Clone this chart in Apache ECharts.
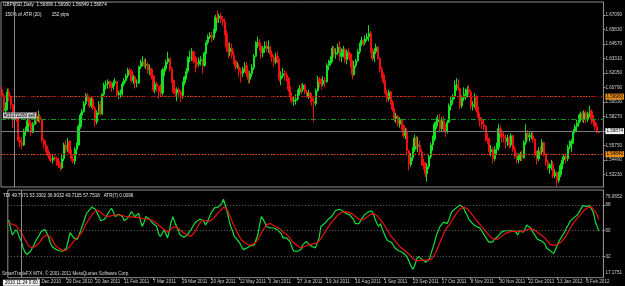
<!DOCTYPE html>
<html><head><meta charset="utf-8">
<script src="https://cdn.jsdelivr.net/npm/echarts@6/dist/echarts.min.js"></script>
<style>html,body{margin:0;padding:0;background:#000;}#c{width:625px;height:286px;}</style>
</head><body><div id="c"></div>
<script>
// ---- data (GBPUSD Daily) ----
const firstDay = '2010-11-15';
const opens = [
1.6060,1.6010,1.5880,1.5890,1.6040, 1.6000,1.5930,1.5800,1.5840,1.5810, 1.5620,1.5600,1.5580,1.5700,1.5700, 1.5790,1.5770,1.5690,1.5760,1.5820,
1.5790,1.5830,1.5800,1.5620,1.5580, 1.5540,1.5500,1.5460,1.5450,1.5470, 1.5460,1.5440,1.5400,1.5380,1.5460, 1.5580,1.5540,1.5610,1.5510,1.5460,
1.5440,1.5540,1.5580,1.5740,1.5840, 1.5870,1.5940,1.6010,1.5990,1.5920, 1.5980,1.5900,1.5780,1.5860,1.5930, 1.5850,1.6020,1.6100,1.6110,1.6130,
1.6100,1.6080,1.6120,1.6130,1.6020, 1.6020,1.6030,1.6110,1.6140,1.6180, 1.6230,1.6220,1.6140,1.6170,1.6120, 1.6120,1.6260,1.6290,1.6300,1.6270,
1.6280,1.6230,1.6240,1.6180,1.6060, 1.6110,1.6090,1.6040,1.6030,1.6230, 1.6240,1.6300,1.6330,1.6240,1.6140, 1.6040,1.6030,1.6060,1.6040,1.6010,
1.6120,1.6170,1.6220,1.6340,1.6340, 1.6390,1.6310,1.6300,1.6280,1.6310, 1.6320,1.6270,1.6380,1.6470,1.6520, 1.6530,1.6510,1.6570,1.6690,1.6680,
1.6700,1.6670,1.6650,1.6550,1.6430, 1.6390,1.6420,1.6360,1.6310,1.6260, 1.6260,1.6220,1.6200,1.6240,1.6270, 1.6200,1.6150,1.6200,1.6250,1.6350,
1.6460,1.6470,1.6440,1.6380,1.6420, 1.6440,1.6420,1.6430,1.6370,1.6340, 1.6300,1.6350,1.6320,1.6150,1.6180, 1.6200,1.6190,1.6160,1.6060,1.6000,
1.5960,1.5970,1.5980,1.6040,1.6070, 1.6060,1.6100,1.6040,1.6000,1.6030, 1.5990,1.5960,1.5940,1.6050,1.6150, 1.6130,1.6110,1.6140,1.6130,1.6270,
1.6290,1.6310,1.6420,1.6370,1.6380, 1.6430,1.6350,1.6380,1.6410,1.6320, 1.6390,1.6370,1.6310,1.6190,1.6270, 1.6310,1.6390,1.6460,1.6490,1.6470,
1.6500,1.6520,1.6550,1.6400,1.6330, 1.6390,1.6430,1.6330,1.6240,1.6190, 1.6130,1.6030,1.5980,1.6040,1.5950, 1.5890,1.5810,1.5830,1.5760,1.5800,
1.5750,1.5660,1.5690,1.5530,1.5410, 1.5470,1.5540,1.5640,1.5570,1.5580, 1.5520,1.5430,1.5400,1.5330,1.5390, 1.5480,1.5580,1.5630,1.5760,1.5780,
1.5800,1.5720,1.5790,1.5730,1.5700, 1.5780,1.5920,1.5970,1.6000,1.6080, 1.6100,1.6070,1.5920,1.5990,1.6010, 1.6020,1.6060,1.6040,1.5920,1.5930,
1.6000,1.5880,1.5820,1.5790,1.5760, 1.5740,1.5640,1.5620,1.5520,1.5540, 1.5460,1.5540,1.5560,1.5720,1.5680, 1.5650,1.5640,1.5610,1.5640,1.5580,
1.5660,1.5540,1.5480,1.5450,1.5480, 1.5500,1.5470,1.5600,1.5680,1.5650, 1.5660,1.5660,1.5630,1.5500,1.5460, 1.5530,1.5520,1.5600,1.5500,1.5430,
1.5380,1.5400,1.5410,1.5310,1.5340, 1.5270,1.5320,1.5400,1.5450,1.5480, 1.5460,1.5560,1.5590,1.5610,1.5700, 1.5740,1.5770,1.5810,1.5850,1.5800,
1.5860,1.5800,1.5850,1.5870,1.5800, 1.5780,1.5740,1.56896
];
const highs = [
1.6085,1.6030,1.5950,1.6070,1.6070, 1.6010,1.5940,1.5860,1.5850,1.5820, 1.5650,1.5650,1.5720,1.5740,1.5810, 1.5820,1.5790,1.5780,1.5860,1.5870,
1.5880,1.5850,1.5810,1.5640,1.5620, 1.5570,1.5520,1.5500,1.5490,1.5490, 1.5480,1.5470,1.5420,1.5500,1.5600, 1.5620,1.5640,1.5620,1.5540,1.5500,
1.5560,1.5600,1.5760,1.5860,1.5890, 1.5960,1.6030,1.6030,1.6000,1.6000, 1.5990,1.5920,1.5880,1.5960,1.5960, 1.6030,1.6120,1.6140,1.6150,1.6140,
1.6130,1.6140,1.6160,1.6140,1.6050, 1.6060,1.6130,1.6160,1.6200,1.6250, 1.6250,1.6240,1.6190,1.6180,1.6150, 1.6270,1.6320,1.6350,1.6330,1.6330,
1.6300,1.6280,1.6250,1.6190,1.6130, 1.6130,1.6100,1.6110,1.6250,1.6270, 1.6320,1.6390,1.6340,1.6260,1.6150, 1.6070,1.6080,1.6080,1.6060,1.6130,
1.6180,1.6250,1.6350,1.6400,1.6420, 1.6400,1.6350,1.6340,1.6340,1.6350, 1.6330,1.6390,1.6490,1.6540,1.6560, 1.6560,1.6590,1.6710,1.6750,1.6720,
1.6730,1.6700,1.6680,1.6580,1.6470, 1.6470,1.6460,1.6400,1.6320,1.6300, 1.6280,1.6250,1.6260,1.6300,1.6300, 1.6230,1.6220,1.6280,1.6370,1.6480,
1.6520,1.6500,1.6470,1.6440,1.6480, 1.6480,1.6490,1.6440,1.6400,1.6360, 1.6380,1.6390,1.6330,1.6220,1.6250, 1.6230,1.6220,1.6170,1.6090,1.6040,
1.6000,1.6020,1.6060,1.6100,1.6110, 1.6120,1.6110,1.6060,1.6060,1.6040, 1.6000,1.5990,1.6070,1.6180,1.6170, 1.6160,1.6180,1.6170,1.6290,1.6320,
1.6350,1.6440,1.6440,1.6420,1.6460, 1.6480,1.6420,1.6440,1.6420,1.6410, 1.6420,1.6380,1.6320,1.6310,1.6330, 1.6410,1.6470,1.6520,1.6500,1.6530,
1.6550,1.6620,1.6570,1.6420,1.6420, 1.6460,1.6440,1.6340,1.6260,1.6210, 1.6140,1.6060,1.6060,1.6050,1.5970, 1.5900,1.5860,1.5840,1.5820,1.5810,
1.5760,1.5730,1.5720,1.5540,1.5510, 1.5560,1.5670,1.5660,1.5650,1.5620, 1.5540,1.5460,1.5430,1.5420,1.5500, 1.5600,1.5660,1.5780,1.5820,1.5840,
1.5850,1.5820,1.5830,1.5760,1.5800, 1.5940,1.6000,1.6020,1.6140,1.6160, 1.6150,1.6080,1.6010,1.6080,1.6070, 1.6090,1.6100,1.6060,1.5960,1.6030,
1.6010,1.5910,1.5860,1.5820,1.5800, 1.5750,1.5680,1.5640,1.5580,1.5560, 1.5570,1.5600,1.5760,1.5750,1.5720, 1.5700,1.5670,1.5670,1.5660,1.5680,
1.5670,1.5570,1.5510,1.5510,1.5520, 1.5530,1.5620,1.5760,1.5710,1.5690, 1.5690,1.5690,1.5640,1.5530,1.5560, 1.5570,1.5630,1.5610,1.5510,1.5450,
1.5420,1.5450,1.5440,1.5370,1.5350, 1.5350,1.5420,1.5480,1.5500,1.5510, 1.5580,1.5620,1.5630,1.5720,1.5760, 1.5800,1.5840,1.5870,1.5870,1.5880,
1.5880,1.5870,1.5920,1.5890,1.5840, 1.5800,1.5770,1.56950
];
const lows = [
1.5990,1.5850,1.5850,1.5880,1.5960, 1.5890,1.5730,1.5770,1.5780,1.5600, 1.5560,1.5540,1.5570,1.5660,1.5690, 1.5740,1.5660,1.5680,1.5750,1.5760,
1.5780,1.5770,1.5600,1.5550,1.5520, 1.5480,1.5440,1.5430,1.5420,1.5440, 1.5400,1.5380,1.5350,1.5370,1.5440, 1.5510,1.5520,1.5500,1.5440,1.5420,
1.5410,1.5500,1.5570,1.5720,1.5800, 1.5860,1.5920,1.5960,1.5900,1.5900, 1.5880,1.5740,1.5760,1.5840,1.5830, 1.5840,1.6000,1.6060,1.6070,1.6070,
1.6040,1.6060,1.6090,1.6000,1.5980, 1.5990,1.6010,1.6090,1.6120,1.6160, 1.6190,1.6120,1.6110,1.6070,1.6080, 1.6110,1.6240,1.6260,1.6250,1.6240,
1.6200,1.6190,1.6150,1.6040,1.6030, 1.6040,1.5980,1.6000,1.6010,1.6180, 1.6220,1.6280,1.6220,1.6120,1.6020, 1.6000,1.5960,1.5990,1.5950,1.5980,
1.6100,1.6150,1.6200,1.6300,1.6310, 1.6290,1.6210,1.6250,1.6260,1.6270, 1.6200,1.6260,1.6370,1.6450,1.6500, 1.6470,1.6490,1.6550,1.6640,1.6640,
1.6640,1.6610,1.6530,1.6390,1.6330, 1.6350,1.6330,1.6280,1.6230,1.6240, 1.6170,1.6120,1.6170,1.6210,1.6170, 1.6110,1.6120,1.6170,1.6230,1.6340,
1.6420,1.6400,1.6330,1.6340,1.6380, 1.6390,1.6380,1.6340,1.6300,1.6260, 1.6280,1.6290,1.6130,1.6100,1.6160, 1.6140,1.6130,1.6040,1.5960,1.5940,
1.5920,1.5930,1.5960,1.6010,1.6020, 1.6040,1.6020,1.5990,1.5980,1.5950, 1.5920,1.5780,1.5920,1.6040,1.6080, 1.6060,1.6090,1.6080,1.6120,1.6230,
1.6270,1.6300,1.6340,1.6330,1.6360, 1.6310,1.6300,1.6340,1.6290,1.6280, 1.6330,1.6250,1.6150,1.6180,1.6250, 1.6300,1.6370,1.6440,1.6440,1.6450,
1.6480,1.6480,1.6380,1.6310,1.6300, 1.6370,1.6320,1.6210,1.6160,1.6110, 1.6010,1.5950,1.5960,1.5930,1.5870, 1.5780,1.5770,1.5740,1.5730,1.5710,
1.5640,1.5630,1.5500,1.5360,1.5390, 1.5440,1.5520,1.5540,1.5520,1.5490, 1.5400,1.5370,1.5300,1.5260,1.5370, 1.5460,1.5530,1.5610,1.5720,1.5740,
1.5690,1.5700,1.5700,1.5650,1.5680, 1.5770,1.5880,1.5930,1.5980,1.6050, 1.6050,1.5890,1.5900,1.5960,1.5970, 1.5990,1.6010,1.5890,1.5880,1.5900,
1.5860,1.5790,1.5740,1.5720,1.5710, 1.5610,1.5590,1.5490,1.5480,1.5420, 1.5440,1.5500,1.5530,1.5640,1.5600, 1.5600,1.5550,1.5570,1.5550,1.5560,
1.5520,1.5460,1.5420,1.5420,1.5440, 1.5440,1.5460,1.5580,1.5620,1.5610, 1.5630,1.5600,1.5470,1.5410,1.5440, 1.5490,1.5500,1.5480,1.5400,1.5360,
1.5330,1.5360,1.5290,1.5290,1.5220, 1.5250,1.5300,1.5370,1.5410,1.5420, 1.5440,1.5540,1.5520,1.5590,1.5680, 1.5700,1.5740,1.5780,1.5780,1.5770,
1.5770,1.5780,1.5820,1.5760,1.5740, 1.5710,1.5680,1.56849
];
const closes = [
1.6010,1.5880,1.5890,1.6040,1.6000, 1.5930,1.5800,1.5840,1.5810,1.5620, 1.5600,1.5580,1.5700,1.5700,1.5790, 1.5770,1.5690,1.5760,1.5820,1.5790,
1.5830,1.5800,1.5620,1.5580,1.5540, 1.5500,1.5460,1.5450,1.5470,1.5460, 1.5440,1.5400,1.5380,1.5460,1.5580, 1.5540,1.5610,1.5510,1.5460,1.5440,
1.5540,1.5580,1.5740,1.5840,1.5870, 1.5940,1.6010,1.5990,1.5920,1.5980, 1.5900,1.5780,1.5860,1.5930,1.5850, 1.6020,1.6100,1.6110,1.6130,1.6100,
1.6080,1.6120,1.6130,1.6020,1.6020, 1.6030,1.6110,1.6140,1.6180,1.6230, 1.6220,1.6140,1.6170,1.6120,1.6120, 1.6260,1.6290,1.6300,1.6270,1.6280,
1.6230,1.6240,1.6180,1.6060,1.6110, 1.6090,1.6040,1.6030,1.6230,1.6240, 1.6300,1.6330,1.6240,1.6140,1.6040, 1.6030,1.6060,1.6040,1.6010,1.6120,
1.6170,1.6220,1.6340,1.6340,1.6390, 1.6310,1.6300,1.6280,1.6310,1.6320, 1.6270,1.6380,1.6470,1.6520,1.6530, 1.6510,1.6570,1.6690,1.6680,1.6700,
1.6670,1.6650,1.6550,1.6430,1.6390, 1.6420,1.6360,1.6310,1.6260,1.6260, 1.6220,1.6200,1.6240,1.6270,1.6200, 1.6150,1.6200,1.6250,1.6350,1.6460,
1.6470,1.6440,1.6380,1.6420,1.6440, 1.6420,1.6430,1.6370,1.6340,1.6300, 1.6350,1.6320,1.6150,1.6180,1.6200, 1.6190,1.6160,1.6060,1.6000,1.5960,
1.5970,1.5980,1.6040,1.6070,1.6060, 1.6100,1.6040,1.6000,1.6030,1.5990, 1.5960,1.5940,1.6050,1.6150,1.6130, 1.6110,1.6140,1.6130,1.6270,1.6290,
1.6310,1.6420,1.6370,1.6380,1.6430, 1.6350,1.6380,1.6410,1.6320,1.6390, 1.6370,1.6310,1.6190,1.6270,1.6310, 1.6390,1.6460,1.6490,1.6470,1.6500,
1.6520,1.6550,1.6400,1.6330,1.6390, 1.6430,1.6330,1.6240,1.6190,1.6130, 1.6030,1.5980,1.6040,1.5950,1.5890, 1.5810,1.5830,1.5760,1.5800,1.5750,
1.5660,1.5690,1.5530,1.5410,1.5470, 1.5540,1.5640,1.5570,1.5580,1.5520, 1.5430,1.5400,1.5330,1.5390,1.5480, 1.5580,1.5630,1.5760,1.5780,1.5800,
1.5720,1.5790,1.5730,1.5700,1.5780, 1.5920,1.5970,1.6000,1.6080,1.6100, 1.6070,1.5920,1.5990,1.6010,1.6020, 1.6060,1.6040,1.5920,1.5930,1.6000,
1.5880,1.5820,1.5790,1.5760,1.5740, 1.5640,1.5620,1.5520,1.5540,1.5460, 1.5540,1.5560,1.5720,1.5680,1.5650, 1.5640,1.5610,1.5640,1.5580,1.5660,
1.5540,1.5480,1.5450,1.5480,1.5500, 1.5470,1.5600,1.5680,1.5650,1.5660, 1.5660,1.5630,1.5500,1.5460,1.5530, 1.5520,1.5600,1.5500,1.5430,1.5380,
1.5400,1.5410,1.5310,1.5340,1.5270, 1.5320,1.5400,1.5450,1.5480,1.5460, 1.5560,1.5590,1.5610,1.5700,1.5740, 1.5770,1.5810,1.5850,1.5800,1.5860,
1.5800,1.5850,1.5870,1.5800,1.5780, 1.5740,1.5690,1.56874
];
// TDI: RSI price line (green) and trade signal line (red)
const tdiPrice = [
57.6,52,47,48,50.7,49,45,42.6,38,35, 33.4,34,35.5,36.8,40,43,45,47,49.5,50,
51,50.7,46,41.6,39,38,37,36.8,36,35.7, 35.7,36.5,38,39,48.6,47,45,43.8,44,47,
50.7,54,58,62,63.4,65,66.5,67.3,65,62.5, 60,57,56.5,58,59.9,62,64,65.7,63,59.9,
60.5,61.5,62.2,60,57,56.5,59,61,63.4,61.5, 59.9,61,62.2,57,53,56,59.9,59,58,56.5,
55,54,53,48,46,48,50.7,48,45,50, 56,59.9,56,53,50,47,46,45.5,45,47,
49,50.7,53,55,56.5,57.5,58,58.8,57,54, 56,59,62.2,64,66,66.8,66.5,67,69,72,
68,63.4,58,53,50,46,45,43,41.5,39, 36.8,37,38,39,39.5,39.5,40,40.3,47,54,
59.9,58,55.3,53,52,51.9,52,51.9,51,50.5, 50.7,48,45,43.8,45,46,42,38,35.7,35,
35.5,35.7,37,40.3,41,42.6,41,40,39,38.5, 38,38,45,53,54,55,56,58,59,60,
61,64,63,65,66,64,63,62,61,61, 60,58,55,55,55,57,59,61,62,63,
63,64,62,58,55,53,55,51,48,45, 43,42,42,40,38,37,36,36,35,34,
33,31,28,25,23,26,30,32,32,30, 29,28,28,30,34,38,42,47,50,53,
54,56,56,55,58,62,64,65,66,67, 68,68,66,63,61,58,57,55,54,53,
52,52,50,48,46,44,42,41,42,44, 45,46,47,49,50,50,49,50,49,50,
51,49,47,50,50,49,51,54,54,52, 50,48,46,44,44,43,42,41,38,37,
36,35,34,37,40,43,45,47,49,52, 54,56.5,57.5,59,60,61,63,65,67.5,68,
67,66,67.5,65,62.5,56.5,53,49.71
];
const tdiSignal = [
55.5,55,54.5,54,53.5,52.5,50.5,48.5,46.5,44, 41.5,39.5,38.2,38,38.5,39.3,40.2,41.5,43.5,45.5,
46.5,46.8,46.5,46,44,41.5,39.5,38.5,37.5,36.5, 36,35.7,36.5,38,39.5,41,42.5,44,45,46.5,
48,50,52.5,55,57,59,61,62.5,63.5,64.5, 64,63,61.5,60.5,60,60,60.2,60.5,60.8,60.9,
61,61,61,60.8,60.3,60,59.8,59.7,59.7,59.5, 59.3,59.2,59.3,58.8,58.5,58.3,58.2,58.3,58,57.6,
57,56,55,54,53,52,51,50,49,49.5, 51,52.5,53,52.5,51.5,50.5,49.5,48.6,47.8,47,
46.3,46,47,49,51,53.5,55.5,57,57.6,57, 56.5,56.5,57,58,59.5,61,62.5,63.4,65,66.5,
66.8,65,62,59,56,53,50.7,48,45.5,43.5, 42.6,41.5,40.5,40,40,40.3,41,42,44,46,
48.6,50.5,52.5,54.5,55.3,55,54.3,53.5,53,52.3, 51.5,50.5,49,48.6,47.5,46,44.5,42.5,41.5,40.5,
39.5,38.5,38,38.5,39,39.5,40,40.5,41,41, 41.3,41.5,42.5,44.5,46.5,48.5,50.5,52.5,54.5,56,
57.5,59,60.5,61.5,62.5,63,63.3,63.2,63,62.5, 62,61,60,59,58,57.5,57.5,58,59,60,
61,62,62,61.5,60.5,59,57.5,56,54,52, 50,48,46,44.5,43,41.5,40,38.5,37.5,36.5,
35.5,34.5,33.5,32,30.5,29.5,29,29,29.3,29.5, 29.5,29.5,29.5,29.5,30,31.5,33.5,36,39,42,
45,48,50.5,52.5,54,56,58,60,62,63.5, 65,66,66.5,66.3,65.5,64,62.5,61,59,57.5,
56,54.5,53,51.5,50,48.5,47,45.5,44.5,44, 44,44.3,45,46,47,48,48.5,49,49.3,49.5,
49.5,49.5,49.3,49.3,49.3,49.5,50,50.5,51,51.5, 51.3,50.8,50,49,48,47,46,45,43.5,42,
40.5,40,40,40,40.3,41,42,43.5,45,47, 49,51.5,53.5,55.5,57,58.8,60,61.5,63,64.5,
65.5,66.3,66.8,66.5,65.5,63.4,61,57.75
];
const priceTicks = [1.53230,1.54490,1.55750,1.57010,1.58270,1.59530,1.60790,1.62050,1.63310,1.64570,1.65830,1.67090];
const tdiTicks = [17.1751,32,50,68,76.0852];
const tdiLevels = [32,50,68];
const orangeLevels = [1.59960,1.54840];
const stopLevels = [1.59700,1.55010];
const orderLevel = 1.57620;
const bidLevel = 1.56874;
const cursorDate = '2010.11.24';
const headerText = 'GBPUSD,Daily  1.56896 1.56950 1.56849 1.56874';
const atrText = '150% of ATR (20)        152 pips';
const tdiText = 'TDI 49.7571 53.3302 36.9032 49.7105 57.7518   ATR(7) 0.0096';
const footText = 'SmartTradeFX MT4, \u00a9 2001-2011 MetaQuotes Software Corp.';
const orderText = '#33172260 sell';

// ---- build ----
const MON = ['Jan','Feb','Mar','Apr','May','Jun','Jul','Aug','Sep','Oct','Nov','Dec'];
const cats = [];
{
  let d = new Date(firstDay + 'T00:00:00Z');
  while (cats.length < closes.length) {
    const wd = d.getUTCDay();
    if (wd !== 0 && wd !== 6) {
      cats.push(d.getUTCFullYear() + '.' + String(d.getUTCMonth()+1).padStart(2,'0') + '.' + String(d.getUTCDate()).padStart(2,'0'));
    }
    d = new Date(d.getTime() + 86400000);
  }
}
const allCats = cats.concat([' ', '  ']); // chart shift space
const nBars = cats.length;
const cursorIdx = cats.indexOf(cursorDate);
const showTick = (i) => i >= 16 && (i - 16) % 16 === 0 && i < nBars;
function fmtDate(s) { const p = s.split('.'); return (+p[2]) + ' ' + MON[+p[1]-1] + ' ' + p[0]; }

const FONT = 'Liberation Sans';
const FS = 4.6;
const candleData = cats.map((c, i) => [opens[i], closes[i], lows[i], highs[i]]);

const chart = echarts.init(document.getElementById('c'), null, {renderer: 'canvas'});
const dashDot = [5, 2, 1, 2];
chart.setOption({
  backgroundColor: '#000000',
  animation: false,
  textStyle: {fontFamily: FONT},
  grid: [
    {left: 1, top: 2, width: 606, height: 185, show: true, borderColor: '#8c8c8c', borderWidth: 1, backgroundColor: 'transparent'},
    {left: 1, top: 190, width: 606, height: 87.7, show: true, borderColor: '#8c8c8c', borderWidth: 1, backgroundColor: 'transparent'}
  ],
  xAxis: [
    {type: 'category', gridIndex: 0, data: allCats, boundaryGap: true, axisLine: {show: false}, axisTick: {show: false}, axisLabel: {show: false}, splitLine: {show: false}},
    {type: 'category', gridIndex: 1, data: allCats, boundaryGap: true, position: 'bottom',
      axisLine: {show: false},
      axisTick: {show: true, interval: (i) => showTick(i), alignWithLabel: true, length: 2, lineStyle: {color: '#9a9a9a', width: 1}},
      axisLabel: {show: true, interval: (i) => showTick(i), formatter: (v) => fmtDate(v), align: 'left', margin: 2, color: '#cfcfcf', fontSize: FS, fontFamily: FONT},
      splitLine: {show: false}},
    {type: 'category', gridIndex: 1, data: allCats, boundaryGap: true, position: 'bottom',
      axisLine: {show: false}, axisTick: {show: false},
      axisLabel: {show: true, interval: (i) => i === cursorIdx, formatter: (v) => v + ' 0:00', align: 'center', margin: 2,
        color: '#000', backgroundColor: '#f0f0f0', padding: [1, 2, 0, 2], fontSize: FS, fontFamily: FONT},
      splitLine: {show: false}}
  ],
  yAxis: [
    {type: 'value', gridIndex: 0, position: 'right', min: 1.52144, max: 1.68220, scale: true,
      axisLine: {show: true, lineStyle: {color: '#8c8c8c'}},
      axisTick: {show: true, customValues: priceTicks, length: 2, lineStyle: {color: '#9a9a9a'}},
      axisLabel: {show: true, customValues: priceTicks, formatter: (v) => v.toFixed(5), margin: 2, color: '#d0d0d0', fontSize: FS, fontFamily: FONT},
      splitLine: {show: false}},
    {type: 'value', gridIndex: 1, position: 'right', min: 17.1751, max: 78.48,
      axisLine: {show: true, lineStyle: {color: '#8c8c8c'}},
      axisTick: {show: true, customValues: [32, 50, 68], length: 2, lineStyle: {color: '#9a9a9a'}},
      axisLabel: {show: true, customValues: tdiTicks, margin: 2, color: '#d0d0d0', fontSize: FS, fontFamily: FONT,
        formatter: (v) => {
          if (Math.abs(v - tdiTicks[tdiTicks.length-1]) < 1e-6) return '{t|' + v.toFixed(4) + '}';
          if (Math.abs(v - tdiTicks[0]) < 1e-6) return '{b|' + v.toFixed(4) + '}';
          return String(Math.round(v));
        },
        rich: {t: {padding: [6, 0, 0, 0], fontSize: FS, color: '#d0d0d0'}, b: {padding: [0, 0, 10, 0], fontSize: FS, color: '#d0d0d0'}}},
      splitLine: {show: false}}
  ],
  series: [
    {type: 'candlestick', xAxisIndex: 0, yAxisIndex: 0, data: candleData, barWidth: 1.7,
      itemStyle: {color: '#10e020', color0: '#f01010', borderColor: '#10e020', borderColor0: '#f01010', borderWidth: 1},
      markLine: {silent: true, symbol: 'none', animation: false,
        data: [
          {yAxis: orangeLevels[0], lineStyle: {color: '#b86a14', type: [1, 2], width: 1},
            label: {show: true, position: 'end', distance: 2, formatter: orangeLevels[0].toFixed(5), color: '#000', backgroundColor: '#e88c10', padding: [1, 1, 0, 1], fontSize: FS, fontFamily: FONT}},
          {yAxis: stopLevels[0], lineStyle: {color: '#a81414', type: dashDot, width: 1}, label: {show: false}},
          {yAxis: orderLevel, lineStyle: {color: '#0c9a1c', type: dashDot, width: 1},
            label: {show: true, position: 'insideStartTop', distance: [2, 1], formatter: orderText, color: '#000', backgroundColor: '#c8c8c8', padding: [1, 1, 0, 1], fontSize: FS, fontFamily: FONT}},
          {yAxis: bidLevel, lineStyle: {color: '#7c7c7c', type: 'solid', width: 1},
            label: {show: true, position: 'end', distance: 2, formatter: bidLevel.toFixed(5), color: '#000', backgroundColor: '#f0f0f0', padding: [1, 1, 0, 1], fontSize: FS, fontFamily: FONT}},
          {yAxis: stopLevels[1], lineStyle: {color: '#a81414', type: dashDot, width: 1}, label: {show: false}},
          {yAxis: orangeLevels[1], lineStyle: {color: '#b86a14', type: [1, 2], width: 1},
            label: {show: true, position: 'end', distance: 2, formatter: orangeLevels[1].toFixed(5), color: '#000', backgroundColor: '#e88c10', padding: [1, 1, 0, 1], fontSize: FS, fontFamily: FONT}},
          {xAxis: cursorDate, lineStyle: {color: '#8c8c8c', type: 'solid', width: 1}, label: {show: false}}
        ]}},
    {type: 'line', xAxisIndex: 1, yAxisIndex: 1, data: tdiPrice, symbol: 'none', lineStyle: {color: '#14e03c', width: 1.2}, z: 3,
      markLine: {silent: true, symbol: 'none', animation: false,
        data: tdiLevels.map(v => ({yAxis: v, lineStyle: {color: '#6a6a6a', type: [1, 2], width: 1}, label: {show: false}}))
          .concat([{xAxis: cursorDate, lineStyle: {color: '#8c8c8c', type: 'solid', width: 1}, label: {show: false}}])}},
    {type: 'line', xAxisIndex: 1, yAxisIndex: 1, data: tdiSignal, symbol: 'none', lineStyle: {color: '#ee1010', width: 1.2}, z: 4}
  ],
  graphic: [
    {type: 'text', left: 3, top: 2, style: {text: headerText, fill: '#e8e8e8', font: FS + 'px ' + FONT}},
    {type: 'text', left: 5, top: 12, style: {text: atrText, fill: '#e8e8e8', font: FS + 'px ' + FONT}},
    {type: 'text', left: 3, top: 193, style: {text: tdiText, fill: '#e8e8e8', font: FS + 'px ' + FONT}},
    {type: 'text', left: 2, top: 271, style: {text: footText, fill: '#d8d8d8', font: FS + 'px ' + FONT}}
  ]
});
</script>
</body></html>
